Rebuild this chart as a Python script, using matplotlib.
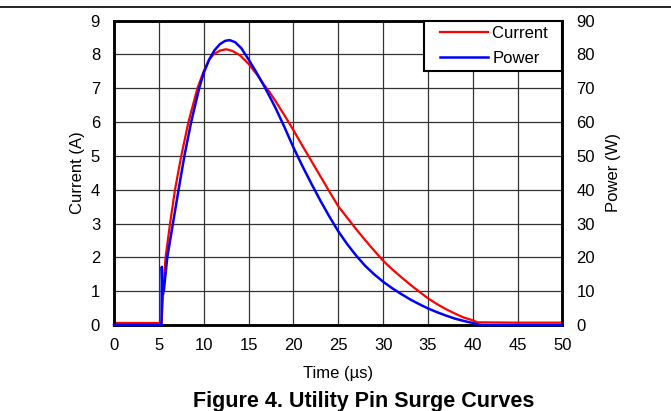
import matplotlib
matplotlib.use("Agg")
import matplotlib.pyplot as plt
from matplotlib.lines import Line2D
from matplotlib.legend_handler import HandlerLine2D

current_time = [0, 2, 5.2, 5.3, 5.5, 5.75, 6.25, 6.8, 7.5, 8.3, 9.3, 10.0, 10.6, 11.1, 11.8,
                12.5, 13.2, 14.0, 15.0, 16.0, 16.6, 17.3, 18.0, 19.0, 20.0, 21.0, 22.0,
                23.0, 24.0, 25.0, 26.0, 27.0, 28.0, 29.0, 30.0, 31.0, 32.0, 33.0, 34.0,
                35.0, 36.0, 37.0, 38.0, 39.0, 40.0, 40.5, 45.0, 50.0]
current_amps = [0.06, 0.06, 0.06, 0.1, 1.0, 2.0, 3.0, 4.0, 5.0, 6.0, 7.0, 7.5, 7.84, 8.0, 8.11,
                8.15, 8.1, 7.98, 7.72, 7.38, 7.14, 6.9, 6.62, 6.2, 5.76, 5.3, 4.85,
                4.4, 3.95, 3.51, 3.17, 2.83, 2.51, 2.2, 1.9, 1.65, 1.42, 1.2, 0.99,
                0.79, 0.62, 0.47, 0.34, 0.22, 0.14, 0.08, 0.07, 0.07]

power_time = [0, 5.3, 5.33, 5.42, 5.56, 5.94, 6.57, 7.2, 7.85, 8.6, 9.5, 10.0, 10.6, 11.2,
              11.8, 12.4, 12.9, 13.5, 14.2, 15.0, 15.8, 16.6, 17.3, 18.0, 19.0, 20.0,
              21.0, 22.0, 23.0, 24.0, 25.0, 26.0, 27.0, 28.0, 29.0, 30.0, 31.0, 32.0,
              33.0, 34.0, 35.0, 36.0, 37.0, 38.0, 39.0, 40.0, 40.5, 41.0, 50.0]
power_watts = [0, 0, 17.2, 9.0, 10.3, 20.0, 30.0, 40.0, 50.0, 60.0, 70.0, 74.5, 78.4, 81.2,
               83.0, 84.0, 84.2, 83.6, 81.8, 78.5, 75.0, 71.3, 67.8, 64.2, 58.5, 52.5,
               47.0, 41.8, 36.8, 32.1, 27.7, 23.9, 20.5, 17.5, 15.0, 12.8, 10.9, 9.2,
               7.6, 6.2, 4.9, 3.8, 2.8, 1.9, 1.2, 0.6, 0.2, 0, 0]

x_ticks = [0, 5, 10, 15, 20, 25, 30, 35, 40, 45, 50]
left_ticks = [0, 1, 2, 3, 4, 5, 6, 7, 8, 9]
right_ticks = [0, 10, 20, 30, 40, 50, 60, 70, 80, 90]

plt.rcParams['font.family'] = ['Liberation Sans', 'DejaVu Sans']
plt.rcParams['font.size'] = 12

fig = plt.figure(figsize=(6.71, 4.11), dpi=100)
ax = fig.add_axes([0.1699, 0.2092, 0.8383 - 0.1699, 0.9501 - 0.2092])
ax2 = ax.twinx()

line_i, = ax.plot(current_time, current_amps, color='#ff0000', linewidth=1.6,
                  label='Current  ', zorder=3, clip_on=False)
line_p, = ax2.plot(power_time, power_watts, color='#0000ff', linewidth=1.8,
                   label='Power', zorder=3, clip_on=False)

ax.set_xlim(0, 50)
ax.set_ylim(0, 9)
ax2.set_ylim(0, 90)
ax.set_xticks(x_ticks)
ax.set_yticks(left_ticks)
ax2.set_yticks(right_ticks)

ax.grid(True, color='#333333', linewidth=0.9)
ax.set_axisbelow(True)
ax.tick_params(axis='x', length=0, pad=9, labelsize=12)
ax.tick_params(axis='y', length=0, pad=10, labelsize=12)
ax2.tick_params(length=0, pad=10, labelsize=12)
for a in (ax, ax2):
    for s in a.spines.values():
        s.set_linewidth(1.8)
        s.set_color('black')

ax.set_xlabel('Time (µs)', fontsize=12, labelpad=9.5)
ax.set_ylabel('Current (A)', fontsize=12, labelpad=4)
ax2.set_ylabel('Power (W)', fontsize=12, labelpad=8)

# legend line starts a bit in from the frame, like the original
leg = ax2.legend(handles=[line_i, line_p], loc='upper right', borderaxespad=0,
                 fontsize=12, handlelength=3.56, handletextpad=0.24,
                 labelspacing=0.63, fancybox=False, framealpha=1,
                 edgecolor='black', borderpad=0.3,
                 handler_map={Line2D: HandlerLine2D(xpad=0.68)})
leg.get_frame().set_linewidth(1.5)

fig.text(0.542, 0.01, 'Figure 4. Utility Pin Surge Curves', ha='center', va='baseline',
         fontsize=15.5, fontweight='bold')
fig.add_artist(Line2D([0, 1], [0.982, 0.982], color='black', linewidth=1.2))

fig.savefig('out.png', dpi=100)
